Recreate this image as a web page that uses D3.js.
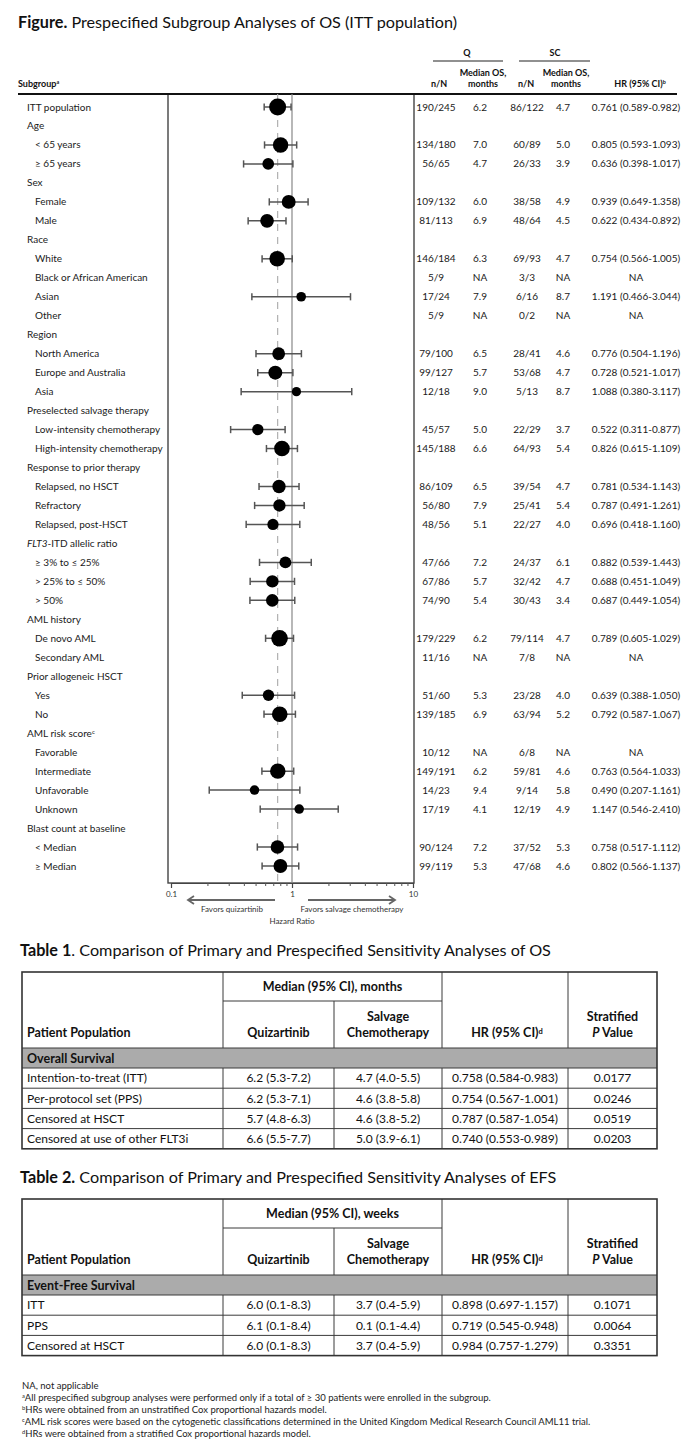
<!DOCTYPE html>
<html><head><meta charset="utf-8">
<script src="https://cdn.jsdelivr.net/npm/d3@7"></script>
<style>
body{margin:0;background:#fff;}
svg{display:block;font-family:Lato,"Open Sans",sans-serif;}
</style></head><body>
<script>
// ---------------- DATA ----------------
const labels = ["ITT population","Age","< 65 years","≥ 65 years","Sex","Female","Male","Race","White","Black or African American","Asian","Other","Region","North America","Europe and Australia","Asia","Preselected salvage therapy","Low-intensity chemotherapy","High-intensity chemotherapy","Response to prior therapy","Relapsed, no HSCT","Refractory","Relapsed, post-HSCT","FLT3-ITD allelic ratio","≥ 3% to ≤ 25%","> 25% to ≤ 50%","> 50%","AML history","De novo AML","Secondary AML","Prior allogeneic HSCT","Yes","No","AML risk score","Favorable","Intermediate","Unfavorable","Unknown","Blast count at baseline","< Median","≥ Median"];
const indent = [0,0,1,1,0,1,1,0,1,1,1,1,0,1,1,1,0,1,1,0,1,1,1,0,1,1,1,0,1,1,0,1,1,0,1,1,1,1,0,1,1];
const qRatio = ["190/245",null,"134/180","56/65",null,"109/132","81/113",null,"146/184","5/9","17/24","5/9",null,"79/100","99/127","12/18",null,"45/57","145/188",null,"86/109","56/80","48/56",null,"47/66","67/86","74/90",null,"179/229","11/16",null,"51/60","139/185",null,"10/12","149/191","14/23","17/19",null,"90/124","99/119"];
const qMedian = ["6.2",null,"7.0","4.7",null,"6.0","6.9",null,"6.3","NA","7.9","NA",null,"6.5","5.7","9.0",null,"5.0","6.6",null,"6.5","7.9","5.1",null,"7.2","5.7","5.4",null,"6.2","NA",null,"5.3","6.9",null,"NA","6.2","9.4","4.1",null,"7.2","5.3"];
const scRatio = ["86/122",null,"60/89","26/33",null,"38/58","48/64",null,"69/93","3/3","6/16","0/2",null,"28/41","53/68","5/13",null,"22/29","64/93",null,"39/54","25/41","22/27",null,"24/37","32/42","30/43",null,"79/114","7/8",null,"23/28","63/94",null,"6/8","59/81","9/14","12/19",null,"37/52","47/68"];
const scMedian = ["4.7",null,"5.0","3.9",null,"4.9","4.5",null,"4.7","NA","8.7","NA",null,"4.6","4.7","8.7",null,"3.7","5.4",null,"4.7","5.4","4.0",null,"6.1","4.7","3.4",null,"4.7","NA",null,"4.0","5.2",null,"NA","4.6","5.8","4.9",null,"5.3","4.6"];
const hr = [0.761,null,0.805,0.636,null,0.939,0.622,null,0.754,"NA",1.191,"NA",null,0.776,0.728,1.088,null,0.522,0.826,null,0.781,0.787,0.696,null,0.882,0.688,0.687,null,0.789,"NA",null,0.639,0.792,null,"NA",0.763,0.490,1.147,null,0.758,0.802];
const hrLow = [0.589,null,0.593,0.398,null,0.649,0.434,null,0.566,"NA",0.466,"NA",null,0.504,0.521,0.380,null,0.311,0.615,null,0.534,0.491,0.418,null,0.539,0.451,0.449,null,0.605,"NA",null,0.388,0.587,null,"NA",0.564,0.207,0.546,null,0.517,0.566];
const hrHigh = [0.982,null,1.093,1.017,null,1.358,0.892,null,1.005,"NA",3.044,"NA",null,1.196,1.017,3.117,null,0.877,1.109,null,1.143,1.261,1.160,null,1.443,1.049,1.054,null,1.029,"NA",null,1.050,1.067,null,"NA",1.033,1.161,2.410,null,1.112,1.137];
const majorTicks = [0.1, 1, 10];
const minorTicks = [0.2,0.3,0.4,0.5,0.6,0.7,0.8,0.9,2,3,4,5,6,7,8,9];

const t1Labels = ["Intention-to-treat (ITT)","Per-protocol set (PPS)","Censored at HSCT","Censored at use of other FLT3i"];
const t1Q = ["6.2 (5.3-7.2)","6.2 (5.3-7.1)","5.7 (4.8-6.3)","6.6 (5.5-7.7)"];
const t1SC = ["4.7 (4.0-5.5)","4.6 (3.8-5.8)","4.6 (3.8-5.2)","5.0 (3.9-6.1)"];
const t1HR = ["0.758 (0.584-0.983)","0.754 (0.567-1.001)","0.787 (0.587-1.054)","0.740 (0.553-0.989)"];
const t1P = ["0.0177","0.0246","0.0519","0.0203"];
const t2Labels = ["ITT","PPS","Censored at HSCT"];
const t2Q = ["6.0 (0.1-8.3)","6.1 (0.1-8.4)","6.0 (0.1-8.3)"];
const t2SC = ["3.7 (0.4-5.9)","0.1 (0.1-4.4)","3.7 (0.4-5.9)"];
const t2HR = ["0.898 (0.697-1.157)","0.719 (0.545-0.948)","0.984 (0.757-1.279)"];
const t2P = ["0.1071","0.0064","0.3351"];

const footnotes = [
  ["", "NA, not applicable"],
  ["a", "All prespecified subgroup analyses were performed only if a total of ≥ 30 patients were enrolled in the subgroup."],
  ["b", "HRs were obtained from an unstratified Cox proportional hazards model."],
  ["c", "AML risk scores were based on the cytogenetic classifications determined in the United Kingdom Medical Research Council AML11 trial."],
  ["d", "HRs were obtained from a stratified Cox proportional hazards model."]
];

// ---------------- DRAW ----------------
const W = 687, H = 1455;
const svg = d3.select("body").append("svg").attr("width", W).attr("height", H);
svg.append("rect").attr("width", W).attr("height", H).attr("fill", "#fff");

// Title
const title = svg.append("text").attr("x", 18).attr("y", 28).attr("font-size", 16.2).attr("fill", "#111");
title.append("tspan").attr("font-weight", "bold").text("Figure.");
title.append("tspan").text(" Prespecified Subgroup Analyses of OS (ITT population)");

// Header
const colNQ = 436, colMQ = 480, colNS = 527, colMS = 563, colHR = 636;
const hdr = svg.append("g").attr("font-size", 9).attr("font-weight", "bold").attr("fill", "#111");
function supLabel(g, x, y, main, sup, anchor) {
  const tx = g.append("text").attr("x", x).attr("y", y).attr("text-anchor", anchor || "start");
  tx.append("tspan").text(main);
  tx.append("tspan").attr("dy", -3).attr("font-size", "0.6em").text(sup);
  return tx;
}
supLabel(hdr, 18, 87, "Subgroup", "a");
hdr.append("text").attr("x", 467).attr("y", 56).attr("text-anchor", "middle").text("Q");
hdr.append("text").attr("x", 555).attr("y", 56).attr("text-anchor", "middle").text("SC");
svg.append("line").attr("x1", 433).attr("x2", 503).attr("y1", 61).attr("y2", 61).attr("stroke", "#222").attr("stroke-width", 1.2);
svg.append("line").attr("x1", 519).attr("x2", 590).attr("y1", 61).attr("y2", 61).attr("stroke", "#222").attr("stroke-width", 1.2);
hdr.append("text").attr("x", colNQ + 3).attr("y", 87).attr("text-anchor", "middle").text("n/N");
hdr.append("text").attr("x", colMQ + 3).attr("y", 76).attr("text-anchor", "middle").text("Median OS,");
hdr.append("text").attr("x", colMQ + 3).attr("y", 87).attr("text-anchor", "middle").text("months");
hdr.append("text").attr("x", colNS - 1).attr("y", 87).attr("text-anchor", "middle").text("n/N");
hdr.append("text").attr("x", colMS + 3).attr("y", 76).attr("text-anchor", "middle").text("Median OS,");
hdr.append("text").attr("x", colMS + 3).attr("y", 87).attr("text-anchor", "middle").text("months");
supLabel(hdr, colHR + 4, 87, "HR (95% CI)", "b", "middle");

// Scales
const y = d3.scalePoint().domain(d3.range(labels.length)).range([107, 866]);
const x = d3.scaleLog().domain([0.1, 10]).range([171, 413]);
const totalN = i => +qRatio[i].split("/")[1] + +scRatio[i].split("/")[1];
const r = d3.scaleSqrt().domain([31, 367]).range([4.6, 8.5]);

const boxL = 168, boxR = 414, boxT = 94, boxB = 883;

// Box
svg.append("rect").attr("x", boxL).attr("y", boxT).attr("width", boxR - boxL).attr("height", boxB - boxT)
  .attr("fill", "none").attr("stroke", "#444").attr("stroke-width", 1.4);
svg.append("line").attr("x1", 18).attr("x2", 677).attr("y1", boxT).attr("y2", boxT).attr("stroke", "#111").attr("stroke-width", 1.8);

// Reference lines
svg.append("line").attr("x1", x(1)).attr("x2", x(1)).attr("y1", boxT).attr("y2", boxB).attr("stroke", "#888").attr("stroke-width", 1.2);
svg.append("line").attr("x1", x(hr[0])).attr("x2", x(hr[0])).attr("y1", boxT).attr("y2", boxB)
  .attr("stroke", "#b0b0b0").attr("stroke-width", 1.2).attr("stroke-dasharray", "7,6");

// Row labels
const lab = svg.append("g").attr("font-size", 10).attr("fill", "#1a1a1a");
labels.forEach((l, i) => {
  const tx = lab.append("text").attr("x", indent[i] ? 35 : 27).attr("y", y(i)).attr("dy", "0.35em");
  if (l.startsWith("FLT3-ITD")) {
    tx.append("tspan").attr("font-style", "italic").text("FLT3");
    tx.append("tspan").text(l.slice(4));
  } else if (l === "AML risk score") {
    tx.append("tspan").text(l);
    tx.append("tspan").attr("dy", -3).attr("font-size", "0.6em").text("c");
  } else tx.text(l);
});

// Data columns
const fmt = d3.format(".3f");
const dataIdx = d3.range(labels.length).filter(i => qRatio[i] !== null);
const cols = svg.append("g").attr("font-size", 10).attr("fill", "#1a1a1a").attr("text-anchor", "middle");
dataIdx.forEach(i => {
  cols.append("text").attr("x", colNQ).attr("y", y(i)).attr("dy", "0.35em").text(qRatio[i]);
  cols.append("text").attr("x", colMQ).attr("y", y(i)).attr("dy", "0.35em").text(qMedian[i]);
  cols.append("text").attr("x", colNS).attr("y", y(i)).attr("dy", "0.35em").text(scRatio[i]);
  cols.append("text").attr("x", colMS).attr("y", y(i)).attr("dy", "0.35em").text(scMedian[i]);
  const txt = typeof hr[i] === "number" ? `${fmt(hr[i])} (${fmt(hrLow[i])}-${fmt(hrHigh[i])})` : "NA";
  cols.append("text").attr("x", colHR).attr("y", y(i)).attr("dy", "0.35em").text(txt);
});

// Error bars & points
const plotIdx = dataIdx.filter(i => typeof hr[i] === "number");
const eb = svg.append("g").attr("stroke", "#555").attr("stroke-width", 1.5);
plotIdx.forEach(i => {
  const yy = y(i);
  eb.append("line").attr("x1", x(hrLow[i])).attr("x2", x(hrHigh[i])).attr("y1", yy).attr("y2", yy);
  eb.append("line").attr("x1", x(hrLow[i])).attr("x2", x(hrLow[i])).attr("y1", yy - 3.6).attr("y2", yy + 3.6);
  eb.append("line").attr("x1", x(hrHigh[i])).attr("x2", x(hrHigh[i])).attr("y1", yy - 3.6).attr("y2", yy + 3.6);
});
svg.append("g").selectAll("circle").data(plotIdx).join("circle")
  .attr("cx", i => x(hr[i])).attr("cy", i => y(i)).attr("r", i => r(totalN(i))).attr("fill", "#000");

// Axis
const axG = svg.append("g").attr("transform", `translate(0,${boxB})`);
axG.call(d3.axisBottom(x).tickValues(majorTicks).tickFormat(d3.format("~g")).tickSize(5).tickSizeOuter(0));
axG.select(".domain").attr("stroke", "#444");
axG.selectAll(".tick line").attr("stroke", "#444").attr("stroke-width", 1.2);
axG.selectAll(".tick text").attr("font-size", 8).attr("font-family", "Lato,sans-serif").attr("fill", "#333");
const axMinor = svg.append("g").attr("transform", `translate(0,${boxB})`);
axMinor.call(d3.axisBottom(x).tickValues(minorTicks).tickFormat("").tickSize(3).tickSizeOuter(0));
axMinor.select(".domain").remove();
axMinor.selectAll(".tick line").attr("stroke", "#555");

// Arrows
const arrowY = 900;
function arrow(x1, x2) {
  const g = svg.append("g").attr("stroke", "#666").attr("stroke-width", 1.8).attr("fill", "none");
  g.append("line").attr("x1", x1).attr("x2", x2).attr("y1", arrowY).attr("y2", arrowY);
  const d = x2 > x1 ? -1 : 1;
  g.append("path").attr("d", `M${x2 + d * 6},${arrowY - 4}L${x2},${arrowY}L${x2 + d * 6},${arrowY + 4}`);
}
arrow(x(1) - 17, x(0.1) + 17);
arrow(x(1) + 16, x(10) - 18);
const axl = svg.append("g").attr("font-size", 8).attr("fill", "#333").attr("text-anchor", "middle");
axl.append("text").attr("x", 232).attr("y", 909).attr("dy", "0.35em").text("Favors quizartinib");
axl.append("text").attr("x", 352).attr("y", 909).attr("dy", "0.35em").text("Favors salvage chemotherapy");
axl.append("text").attr("x", x(1)).attr("y", 921).attr("dy", "0.35em").text("Hazard Ratio");

// ---------------- TABLES ----------------
function drawTable(top, num, titleRest, unit, section, rl, q, sc, h, p) {
  const xs = [22, 223, 334, 442, 568, 657];
  const g = svg.append("g").attr("fill", "#111");
  const tt = g.append("text").attr("x", 20).attr("y", top - 22).attr("dy", "0.35em").attr("font-size", 16.2);
  tt.append("tspan").attr("font-weight", "bold").text(num);
  tt.append("tspan").text(titleRest);
  const subLine = top + 29, headB = top + 76, grayB = headB + 20, rowH = 20.2;
  const bottom = grayB + rowH * rl.length;
  g.append("rect").attr("x", xs[0]).attr("y", headB).attr("width", xs[5] - xs[0]).attr("height", 20).attr("fill", "#ababab");
  const ln = (x1, y1, x2, y2, w) => g.append("line").attr("x1", x1).attr("y1", y1).attr("x2", x2).attr("y2", y2)
    .attr("stroke", "#3a3a3a").attr("stroke-width", w || 1);
  ln(xs[1], subLine, xs[3], subLine);
  ln(xs[0], headB, xs[5], headB);
  ln(xs[0], grayB, xs[5], grayB);
  rl.forEach((_, k) => { if (k > 0) ln(xs[0], grayB + k * rowH, xs[5], grayB + k * rowH); });
  ln(xs[1], top, xs[1], headB); ln(xs[3], top, xs[3], headB); ln(xs[4], top, xs[4], headB);
  ln(xs[2], subLine, xs[2], headB);
  [1, 2, 3, 4].forEach(c => ln(xs[c], grayB, xs[c], bottom));
  g.append("rect").attr("x", xs[0]).attr("y", top).attr("width", xs[5] - xs[0]).attr("height", bottom - top)
    .attr("fill", "none").attr("stroke", "#333").attr("stroke-width", 1.6);
  const hd = g.append("g").attr("font-size", 12.5).attr("font-weight", "bold").attr("text-anchor", "middle");
  const cx = c => (xs[c] + xs[c + 1]) / 2;
  const l1 = top + 45, l2 = top + 61;
  hd.append("text").attr("x", (xs[1] + xs[3]) / 2).attr("y", top + 15).attr("dy", "0.35em").text(unit);
  hd.append("text").attr("x", xs[0] + 5).attr("y", l2).attr("dy", "0.35em").attr("text-anchor", "start").text("Patient Population");
  hd.append("text").attr("x", cx(1)).attr("y", l2).attr("dy", "0.35em").text("Quizartinib");
  hd.append("text").attr("x", cx(2)).attr("y", l1).attr("dy", "0.35em").text("Salvage");
  hd.append("text").attr("x", cx(2)).attr("y", l2).attr("dy", "0.35em").text("Chemotherapy");
  const hrT = hd.append("text").attr("x", cx(3) + 2).attr("y", l2).attr("dy", "0.35em");
  hrT.append("tspan").text("HR (95% CI)");
  hrT.append("tspan").attr("dy", "-0.45em").attr("font-size", "0.6em").text("d");
  hd.append("text").attr("x", cx(4)).attr("y", l1).attr("dy", "0.35em").text("Stratified");
  const pv = hd.append("text").attr("x", cx(4)).attr("y", l2).attr("dy", "0.35em");
  pv.append("tspan").attr("font-style", "italic").text("P");
  pv.append("tspan").text(" Value");
  g.append("text").attr("x", xs[0] + 5).attr("y", headB + 10.5).attr("dy", "0.35em").attr("font-size", 12.5).attr("font-weight", "bold").text(section);
  const bd = g.append("g").attr("font-size", 12);
  rl.forEach((lbl, k) => {
    const yy = grayB + (k + 0.5) * rowH;
    bd.append("text").attr("x", xs[0] + 5).attr("y", yy).attr("dy", "0.35em").text(lbl);
    [[q, 1], [sc, 2], [h, 3], [p, 4]].forEach(([arr, c]) =>
      bd.append("text").attr("x", cx(c)).attr("y", yy).attr("dy", "0.35em").attr("text-anchor", "middle").text(arr[k]));
  });
}
drawTable(972, "Table 1", ". Comparison of Primary and Prespecified Sensitivity Analyses of OS", "Median (95% CI), months", "Overall Survival", t1Labels, t1Q, t1SC, t1HR, t1P);
drawTable(1199, "Table 2.", " Comparison of Primary and Prespecified Sensitivity Analyses of EFS", "Median (95% CI), weeks", "Event-Free Survival", t2Labels, t2Q, t2SC, t2HR, t2P);

// Footnotes
const fn = svg.append("g").attr("font-size", 9.5).attr("fill", "#222");
footnotes.forEach(([s, t], k) => {
  const tx = fn.append("text").attr("x", 22).attr("y", 1386 + k * 12).attr("dy", "0.35em");
  if (s) {
    tx.append("tspan").attr("font-size", "0.6em").attr("baseline-shift", "super").text(s);
  }
  tx.append("tspan").text(t);
});
</script>
</body></html>
